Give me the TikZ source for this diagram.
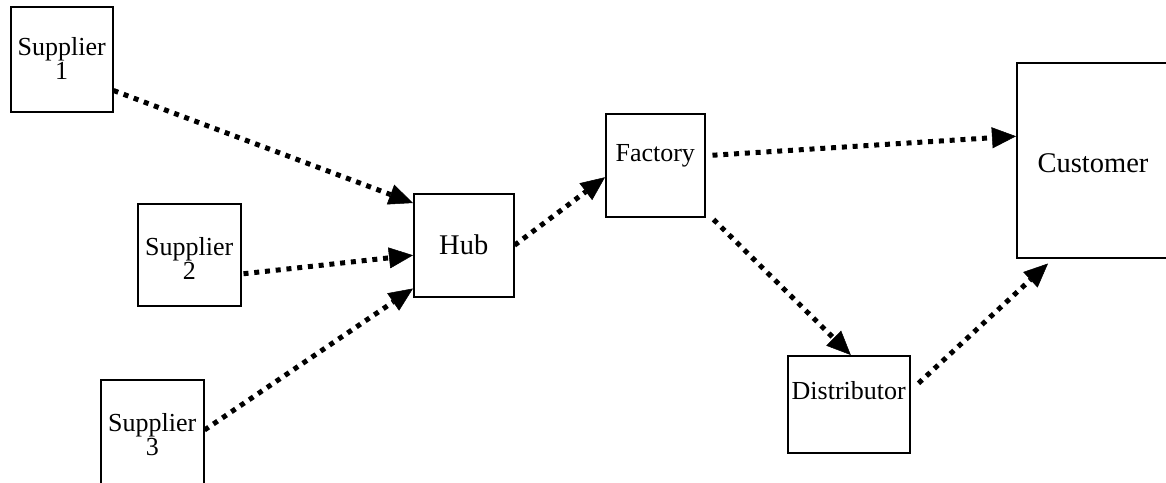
\documentclass[tikz,border=0pt]{standalone}
\usepackage{fontspec}
\setmainfont{Liberation Serif}
\usetikzlibrary{arrows.meta}

\tikzset{
  box/.style={draw=black, line width=1.5pt, rectangle, inner sep=0pt, anchor=north west},
  txt/.style={anchor=north, inner sep=0pt, align=center, font=\fontsize{26}{24}\selectfont},
  bigtxt/.style={anchor=north, inner sep=0pt, align=center, font=\fontsize{28.5}{28}\selectfont},
  flow/.style={line width=5pt, line cap=butt, dash pattern=on 5pt off 5.8pt,
    -{Triangle[length=24pt, width=21pt, line width=0.5pt]}},
}

\begin{document}
\begin{tikzpicture}[x=1pt, y=-1pt]
  \clip (0,0) rectangle (1166,482);
  \fill[white] (0,0) rectangle (1166,482);

  % boxes
  \node[box, minimum width=102pt, minimum height=105pt] (s1)  at (10,6)    {};
  \node[box, minimum width=103pt, minimum height=102pt] (s2)  at (137,203) {};
  \node[box, minimum width=103pt, minimum height=115pt] (s3)  at (100,379) {};
  \node[box, minimum width=100pt, minimum height=103pt] (hub) at (413,193) {};
  \node[box, minimum width=99pt,  minimum height=103pt] (fac) at (605,113) {};
  \node[box, minimum width=122pt, minimum height=97pt]  (dis) at (787,355) {};
  \node[box, minimum width=170pt, minimum height=195pt] (cus) at (1016,62) {};

  % labels
  \node[txt]    (s1t)  at ([yshift=-31pt]s1.north)  {Supplier\\1};
  \node[txt]    (s2t)  at ([yshift=-34pt]s2.north)  {Supplier\\2};
  \node[txt]    (s3t)  at ([yshift=-34pt]s3.north)  {Supplier\\3};
  \node[bigtxt] (hubt) at ([yshift=-42pt]hub.north) {Hub};
  \node[txt]    (fact) at ([yshift=-31pt]fac.north) {Factory};
  \node[txt]    (dist) at ([yshift=-26pt]dis.north) {Distributor};
  \node[bigtxt] (cust) at (1093,153) {Customer};

  % flows
  \draw[flow] ([yshift=22pt]s1.south east) -- ([yshift=-10pt]hub.north west);
  \draw[flow] ([xshift=2pt, yshift=-19pt]s2.east) -- ([yshift=-10pt]hub.west);
  \draw[flow] ([yshift=-51pt]s3.north east) -- ([yshift=9pt]hub.south west);
  \draw[flow] (hub.east) -- ([yshift=-12pt]fac.west);
  \draw[flow] ([xshift=7pt, yshift=10pt]fac.east) -- ([yshift=24pt]cus.west);
  \draw[flow] ([xshift=8pt, yshift=-2pt]fac.south east) -- ([xshift=2pt]dis.north);
  \draw[flow] ([xshift=8pt, yshift=21pt]dis.east) -- ([xshift=32pt, yshift=-5pt]cus.south west);
\end{tikzpicture}
\end{document}
